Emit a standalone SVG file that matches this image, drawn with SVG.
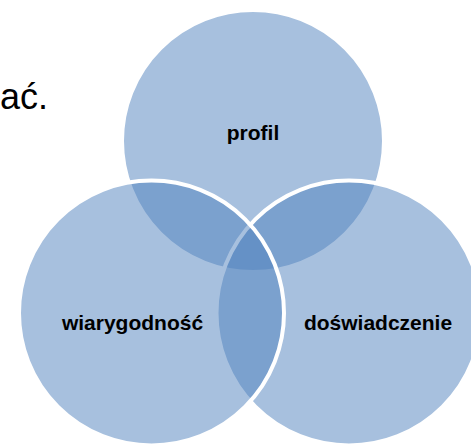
<svg xmlns="http://www.w3.org/2000/svg" width="471" height="446" viewBox="0 0 471 446">
  <style>
    .c { fill: #4F81BD; fill-opacity: 0.5; stroke: #FFFFFF; stroke-width: 4; }
    .lbl { font-family: "Liberation Sans", Arial, sans-serif; font-weight: bold; font-size: 21px; fill: #000000; text-anchor: middle; }
    .body { font-family: "Liberation Sans", Arial, sans-serif; font-size: 36px; fill: #000000; }
  </style>
  <rect width="471" height="446" fill="#FFFFFF"/>
  <text class="body" x="0" y="109">ać.</text>
  <g id="circles">
    <g id="node-profil">
      <circle class="c" cx="253" cy="141" r="131"/>
    </g>
    <g id="node-doswiadczenie">
      <circle class="c" cx="349" cy="313" r="132.5"/>
    </g>
    <g id="node-wiarygodnosc">
      <circle class="c" cx="151.5" cy="313" r="132.5"/>
    </g>
  </g>
  <g id="labels">
    <text class="lbl" x="253" y="140">profil</text>
    <text class="lbl" x="132.5" y="330">wiarygodność</text>
    <text class="lbl" x="378" y="330">doświadczenie</text>
  </g>
</svg>
